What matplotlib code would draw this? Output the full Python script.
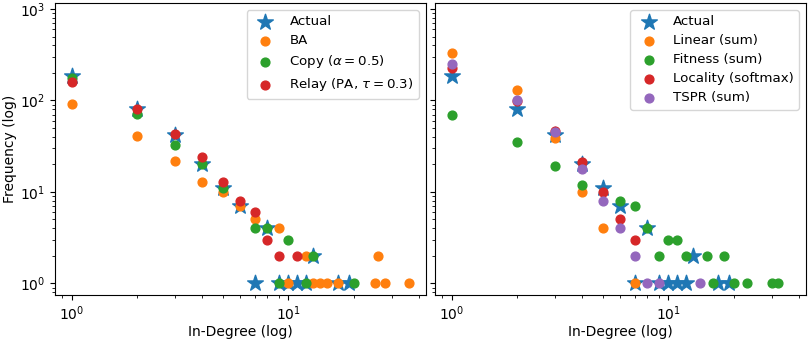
import matplotlib
matplotlib.use("Agg")
import matplotlib.pyplot as plt

# Actual degree distribution (same in both panels)
actual_deg = [1, 2, 3, 4, 5, 6, 7, 8, 9, 10, 11, 12, 13, 17, 19]
actual_freq = [185, 80, 42, 20, 11, 7, 1, 4, 1, 1, 1, 1, 2, 1, 1]

# left panel
ba_deg = [1, 2, 3, 4, 5, 6, 7, 9, 10, 12, 13, 14, 15, 17, 25, 26, 28, 36]
ba_freq = [92, 41, 22, 13, 10, 7, 5, 4, 1, 2, 1, 1, 1, 1, 1, 2, 1, 1]
copy_deg = [1, 2, 3, 4, 5, 7, 8, 9, 10, 12, 13, 20]
copy_freq = [177, 71, 33, 20, 11, 4, 4, 1, 3, 1, 2, 1]
relay_deg = [1, 2, 3, 4, 5, 6, 7, 8, 9, 11]
relay_freq = [160, 80, 43, 24, 13, 8, 6, 3, 2, 2]

# right panel
linear_deg = [1, 2, 3, 4, 5, 7]
linear_freq = [330, 130, 39, 10, 4, 1]
fitness_deg = [1, 2, 3, 4, 6, 7, 8, 9, 10, 11, 12, 15, 16, 18, 20, 23, 30, 32]
fitness_freq = [70, 35, 19, 12, 8, 7, 4, 2, 3, 3, 2, 2, 1, 2, 1, 1, 1, 1]
locality_deg = [1, 2, 3, 4, 5, 6, 7]
locality_freq = [225, 98, 46, 21, 10, 5, 3]
tspr_deg = [1, 2, 3, 4, 5, 6, 7, 8, 9, 14]
tspr_freq = [250, 100, 45, 18, 8, 4, 2, 1, 1, 1]

left_series = [
    ("BA", ba_deg, ba_freq),
    (r"Copy ($\alpha=0.5$)", copy_deg, copy_freq),
    (r"Relay (PA, $\tau=0.3$)", relay_deg, relay_freq),
]
right_series = [
    ("Linear (sum)", linear_deg, linear_freq),
    ("Fitness (sum)", fitness_deg, fitness_freq),
    ("Locality (softmax)", locality_deg, locality_freq),
    ("TSPR (sum)", tspr_deg, tspr_freq),
]

plt.rcParams["font.size"] = 10

fig, axes = plt.subplots(1, 2, sharex=True, sharey=True, figsize=(8.09, 3.42), dpi=100)

for ax, series in zip(axes, [left_series, right_series]):
    ax.scatter(actual_deg, actual_freq, marker="*", s=140, color="C0", label="Actual")
    for i, (name, deg, freq) in enumerate(series):
        ax.scatter(deg, freq, s=40, color="C%d" % (i + 1), label=name)
    ax.set_xscale("log")
    ax.set_yscale("log")
    ax.set_xlabel("In-Degree (log)", labelpad=1)
    ax.legend(loc="upper right", fontsize=9.6, labelspacing=0.45)

axes[0].set_ylabel("Frequency (log)", labelpad=2)
axes[0].set_ylim(0.745, 1150)

fig.subplots_adjust(left=0.068, right=0.996, top=0.99, bottom=0.137, wspace=0.025)
fig.savefig("out.png", dpi=100)
